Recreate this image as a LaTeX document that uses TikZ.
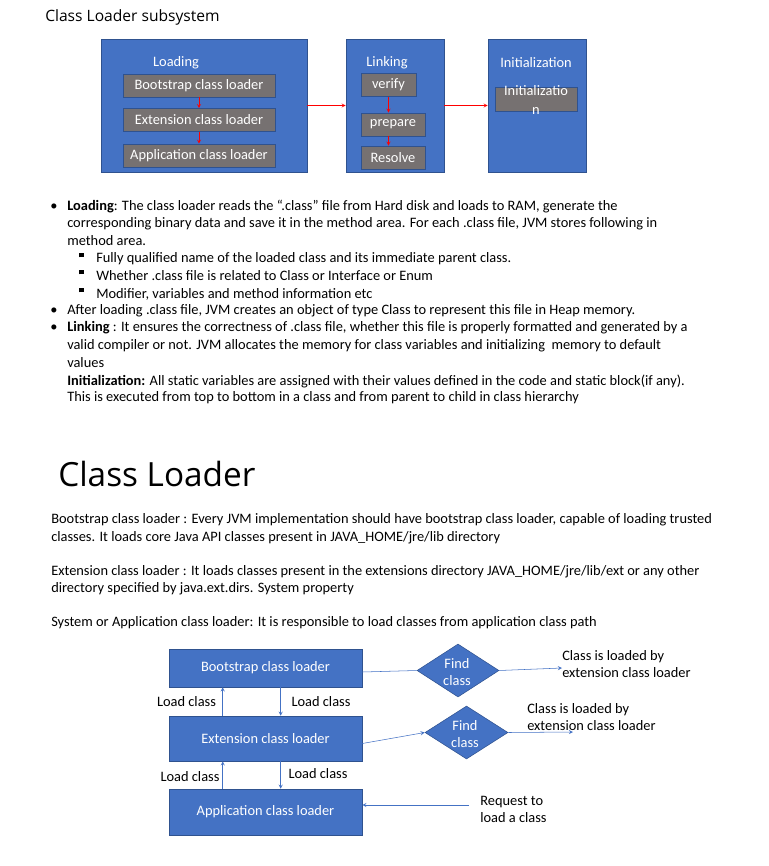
\documentclass[tikz,border=0pt]{standalone}
\usepackage{fontspec}
\setmainfont{Carlito}
\newfontfamily\headfont{Open Sans}
\usetikzlibrary{shapes.geometric}

\definecolor{boxblue}{RGB}{68,114,196}
\definecolor{boxedge}{RGB}{47,82,143}
\definecolor{stepgray}{RGB}{118,113,113}

\def\px{0.75pt}

\tikzset{
  panel/.style={draw=boxedge, fill=boxblue, inner sep=0pt},
  paneltitle/.style={text=white, font=\fontsize{10.8}{13}\selectfont},
  stepbox/.style={draw=boxedge, fill=stepgray, text=white, inner sep=0pt,
    minimum height=23*\px, font=\fontsize{10.8}{14}\selectfont},
  redarrow/.style={->, red, thin},
  blocklabel/.style={draw=boxedge, fill=boxblue, text=white, inner sep=0pt,
    minimum width=193*\px, font=\fontsize{10.8}{13}\selectfont},
  findbox/.style={diamond, draw=boxedge, fill=boxblue, inner sep=0pt},
  bluearrow/.style={->, boxblue, thin},
  line/.style={anchor=west, inner sep=0pt},
  note/.style={align=left, inner sep=0pt, font=\fontsize{10.8}{13}\selectfont},
}

\newcommand{\sqbullet}{\raisebox{0.3ex}{\rule{0.32em}{0.32em}}}

\begin{document}
\begin{tikzpicture}[x=0.75pt, y=-0.75pt, >=stealth, font=\fontsize{10.8}{13}\selectfont]
  \useasboundingbox (0,0) rectangle (768,866);

  % ----- Class Loader subsystem -----
  \node[line, font=\headfont\fontsize{11.7}{14}\selectfont] (title) at (45,17.5) {Class Loader subsystem};

  \node[panel, minimum width=206*\px, minimum height=133*\px] (loading) at (204,105.5) {};
  \node[panel, minimum width=98*\px, minimum height=133*\px] (linking) at (395,105.5) {};
  \node[panel, minimum width=98*\px, minimum height=133*\px] (init) at (537,105.5) {};
  \node[paneltitle] (loadingT) at (176,62.5) {Loading};
  \node[paneltitle] (linkingT) at (387,62.5) {Linking};
  \node[paneltitle] (initT) at (536,62.5) {Initialization};

  \node[stepbox, minimum width=152*\px] (boot) at (199,85.5) {Bootstrap class loader};
  \node[stepbox, minimum width=152*\px] (ext) at (199,120) {Extension class loader};
  \node[stepbox, minimum width=152*\px] (app) at (199,155.5) {Application class loader};
  \draw[redarrow] (boot) -- (ext);
  \draw[redarrow] (ext) -- (app);

  \node[stepbox, minimum width=55*\px] (verify) at (388.5,85) {verify};
  \node[stepbox, minimum width=64*\px] (prepare) at (393,124.5) {prepare};
  \node[stepbox, minimum width=64*\px] (resolve) at (393,157.5) {Resolve};
  \draw[redarrow] (verify.south) -- (verify.south |- prepare.north);
  \draw[redarrow] (verify.south |- prepare.south) -- (verify.south |- resolve.north);

  \node[stepbox, minimum width=82*\px, minimum height=24*\px] (initstep) at (536,99) {};
  \node[align=center, text=white, inner sep=0pt, font=\fontsize{10.8}{14}\selectfont]
    (initstepT) at (536,100) {Initializatio\\n};

  \draw[redarrow] (loading.east) -- (linking.west);
  \draw[redarrow] (linking.east) -- (init.west);

  % ----- bullets -----
  \node[line] (b1) at (50,207) {\textbullet};
  \node[line] (l1) at (67,207) {\textbf{Loading}: The class loader reads the ``.class'' file from Hard disk and loads to RAM, generate the};
  \node[line] (l2) at (67,224) {corresponding binary data and save it in the method area. For each .class file, JVM stores following in};
  \node[line] (l3) at (67,241) {method area.};
  \foreach \y/\txt [count=\i] in {259/Fully qualified name of the loaded class and its immediate parent class.,
                     276/Whether .class file is related to Class or Interface or Enum,
                     294/{Modifier, variables and method information etc}} {
    \node[line] (sb\i) at (79,\y-3) {\sqbullet};
    \node[line] (s\i) at (96,\y) {\txt};
  }
  \node[line] (b2) at (50,311) {\textbullet};
  \node[line] (l4) at (67,311) {After loading .class file, JVM creates an object of type Class to represent this file in Heap memory.};
  \node[line] (b3) at (50,328) {\textbullet};
  \node[line] (l5) at (67,328) {\textbf{Linking} : It ensures the correctness of .class file, whether this file is properly formatted and generated by a};
  \node[line] (l6) at (67,346) {valid compiler or not. JVM allocates the memory for class variables and initializing\ \ memory to default};
  \node[line] (l7) at (67,363) {values};
  \node[line] (l8) at (67,381) {\textbf{Initialization:} All static variables are assigned with their values defined in the code and static block(if any).};
  \node[line] (l9) at (67,398) {This is executed from top to bottom in a class and from parent to child in class hierarchy};

  % ----- Class Loader -----
  \node[line, font=\headfont\fontsize{25}{30}\selectfont] (head) at (58,474) {Class Loader};
  \node[line] (p1) at (51,520) {Bootstrap class loader : Every JVM implementation should have bootstrap class loader, capable of loading trusted};
  \node[line] (p2) at (51,538) {classes. It loads core Java API classes present in JAVA\_HOME/jre/lib directory};
  \node[line] (p3) at (51,572) {Extension class loader : It loads classes present in the extensions directory JAVA\_HOME/jre/lib/ext or any other};
  \node[line] (p4) at (51,589) {directory specified by java.ext.dirs. System property};
  \node[line] (p5) at (51,623) {System or Application class loader: It is responsible to load classes from application class path};

  % ----- delegation -----
  \node[blocklabel, minimum height=38*\px] (boot2) at (265.5,668) {Bootstrap class loader};
  \node[blocklabel, minimum height=45*\px] (ext2) at (265.5,738.5) {Extension class loader};
  \node[blocklabel, minimum height=46*\px] (app2) at (265.5,812) {Application class loader};

  \draw[bluearrow] ([xshift=54*\px]ext2.north west) -- ([xshift=54*\px]boot2.south west);
  \draw[bluearrow] ([xshift=112*\px]boot2.south west) -- ([xshift=112*\px]ext2.north west);
  \draw[bluearrow] ([xshift=54*\px]app2.north west) -- ([xshift=54*\px]ext2.south west);
  \draw[bluearrow] ([xshift=112*\px]ext2.south west) -- ([xshift=112*\px]app2.north west);
  \node[note] (up1) at (186.5,702) {Load class};
  \node[note] (down1) at (321,702) {Load class};
  \node[note] (up2) at (190,777) {Load class};
  \node[note] (down2) at (318,774) {Load class};

  \node[findbox, minimum width=82*\px, minimum height=53*\px] (find1) at (458,670.5) {};
  \node[note, align=center, text=white] (find1T) at (457,672) {Find\\class};
  \node[findbox, minimum width=83*\px, minimum height=53*\px] (find2) at (466.5,732.5) {};
  \node[note, align=center, text=white] (find2T) at (465,734) {Find\\class};

  \draw[boxblue, thin] ([yshift=-4*\px]boot2.east) -- (find1.west);
  \draw[bluearrow] ([yshift=-5*\px]ext2.east) -- (find2.west);

  \coordinate (end1) at (562,668);
  \coordinate (end2) at (573,732);
  \draw[bluearrow] (find1.east) -- (end1);
  \draw[bluearrow] (find2.east) -- (end2);
  \node[note, anchor=west] (res1) at (562,664) {Class is loaded by\\extension class loader};
  \node[note, anchor=west] (res2) at (527,717) {Class is loaded by\\extension class loader};

  \coordinate (req) at (469,805);
  \draw[bluearrow] (req) -- (req -| app2.east);
  \node[note, anchor=west] (reqT) at (480,809.5) {Request to\\load a class};
\end{tikzpicture}
\end{document}
